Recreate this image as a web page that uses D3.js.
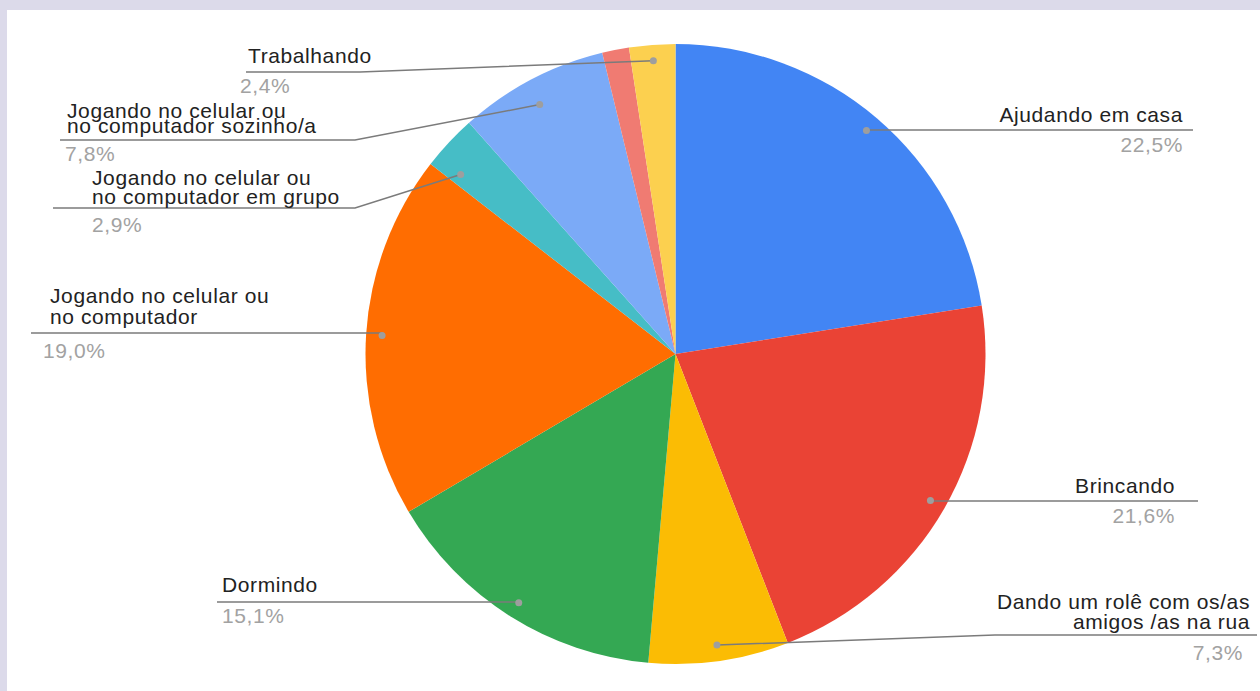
<!DOCTYPE html>
<html>
<head>
<meta charset="utf-8">
<script src="https://cdn.jsdelivr.net/npm/d3@7"></script>
<style>
  html, body { margin: 0; padding: 0; background: #dcdaea; }
  svg { display: block; }
</style>
</head>
<body>
<svg id="chart" width="1260" height="691"></svg>
<script>
// Activities and their shares (percent), clockwise from 12 o'clock.
const categories = [
  "Ajudando em casa",
  "Brincando",
  "Dando um rolê com os/as\namigos /as na rua",
  "Dormindo",
  "Jogando no celular ou\nno computador",
  "Jogando no celular ou\nno computador em grupo",
  "Jogando no celular ou\nno computador sozinho/a",
  "",
  "Trabalhando"
];
const values = [22.5, 21.6, 7.3, 15.1, 19.0, 2.9, 7.8, 1.4, 2.4];
const colors = ["#4285f4", "#ea4335", "#fbbc04", "#34a853", "#ff6d01",
                "#46bdc6", "#7baaf7", "#f07b72", "#fcd04f"];

// Label placement: text anchor/x, first baseline, line step, underline y,
// underline outer end, optional elbow x, percent x/baseline, dot position in slice.
const labelLayout = [
  { anchor: "end",   x: 1183, y: 122, step: 20, lineY: 130, endX: 1193, elbowX: null, px: 1183, py: 152, frac: 0.5,  r: 294 },
  { anchor: "end",   x: 1175, y: 493, step: 20, lineY: 501, endX: 1198, elbowX: null, px: 1175, py: 523, frac: 0.5,  r: 294 },
  { anchor: "end",   x: 1250, y: 609, step: 20, lineY: 635, endX: 1257, elbowX: 995,  px: 1243, py: 660, frac: 0.5,  r: 294 },
  { anchor: "start", x: 222,  y: 592, step: 20, lineY: 602, endX: 217,  elbowX: null, px: 222,  py: 623, frac: 0.5,  r: 294 },
  { anchor: "start", x: 50,   y: 303, step: 21, lineY: 333, endX: 31,   elbowX: null, px: 43,   py: 358, frac: 0.5,  r: 294 },
  { anchor: "start", x: 92,   y: 185, step: 19, lineY: 208, endX: 53,   elbowX: 355,  px: 92,   py: 232, frac: 0.2,  r: 280 },
  { anchor: "start", x: 67,   y: 118, step: 15, lineY: 140, endX: 60,   elbowX: 355,  px: 65,   py: 161, frac: 0.47, r: 284 },
  null,
  { anchor: "start", x: 248,  y: 63,  step: 20, lineY: 72,  endX: 246,  elbowX: 360,  px: 240,  py: 93,  frac: 0.5,  r: 294 }
];

const W = 1260, H = 691;
const cx = 675.5, cy = 354, R = 310;
const svg = d3.select("#chart");

// white panel inside the lavender frame
svg.append("rect").attr("x", 7).attr("y", 10).attr("width", W - 7).attr("height", H - 10).attr("fill", "#ffffff");

const data = categories.map((c, i) => ({ name: c, value: values[i], color: colors[i], layout: labelLayout[i] }));

const pie = d3.pie().sort(null).value(d => d.value).startAngle(0).endAngle(2 * Math.PI);
const arc = d3.arc().innerRadius(0).outerRadius(R);
const arcs = pie(data);

const g = svg.append("g").attr("transform", `translate(${cx},${cy})`);
g.selectAll("path.slice")
  .data(arcs)
  .join("path")
  .attr("class", "slice")
  .attr("d", arc)
  .attr("fill", d => d.data.color);

const fmt = v => d3.format(".1f")(v).replace(".", ",") + "%";
const font = "'Liberation Sans', Arial, Helvetica, sans-serif";

const labeled = arcs.filter(d => d.data.layout);

const lbl = svg.append("g");
labeled.forEach(d => {
  const L = d.data.layout;
  const a = d.startAngle + (d.endAngle - d.startAngle) * L.frac;
  const dot = [cx + L.r * Math.sin(a), cy - L.r * Math.cos(a)];
  const elbow = L.elbowX == null ? [dot[0], L.lineY] : [L.elbowX, L.lineY];
  const pts = [dot, elbow, [L.endX, L.lineY]];

  lbl.append("path")
    .attr("d", d3.line()(pts))
    .attr("fill", "none")
    .attr("stroke", "#7b7b7b")
    .attr("stroke-width", 1.5);
  lbl.append("circle")
    .attr("cx", dot[0]).attr("cy", dot[1]).attr("r", 3.5)
    .attr("fill", "#9e9e9e");

  const t = lbl.append("text")
    .attr("text-anchor", L.anchor)
    .attr("font-family", font)
    .attr("font-size", 21)
    .attr("letter-spacing", "0.6px")
    .attr("fill", "#222222");
  d.data.name.split("\n").forEach((line, k) => {
    t.append("tspan").attr("x", L.x).attr("y", L.y + k * L.step).text(line);
  });

  lbl.append("text")
    .attr("x", L.px).attr("y", L.py)
    .attr("text-anchor", L.anchor)
    .attr("font-family", font)
    .attr("font-size", 21)
    .attr("letter-spacing", "0.6px")
    .attr("fill", "#a2a2a2")
    .text(fmt(d.data.value));
});
</script>
</body>
</html>
